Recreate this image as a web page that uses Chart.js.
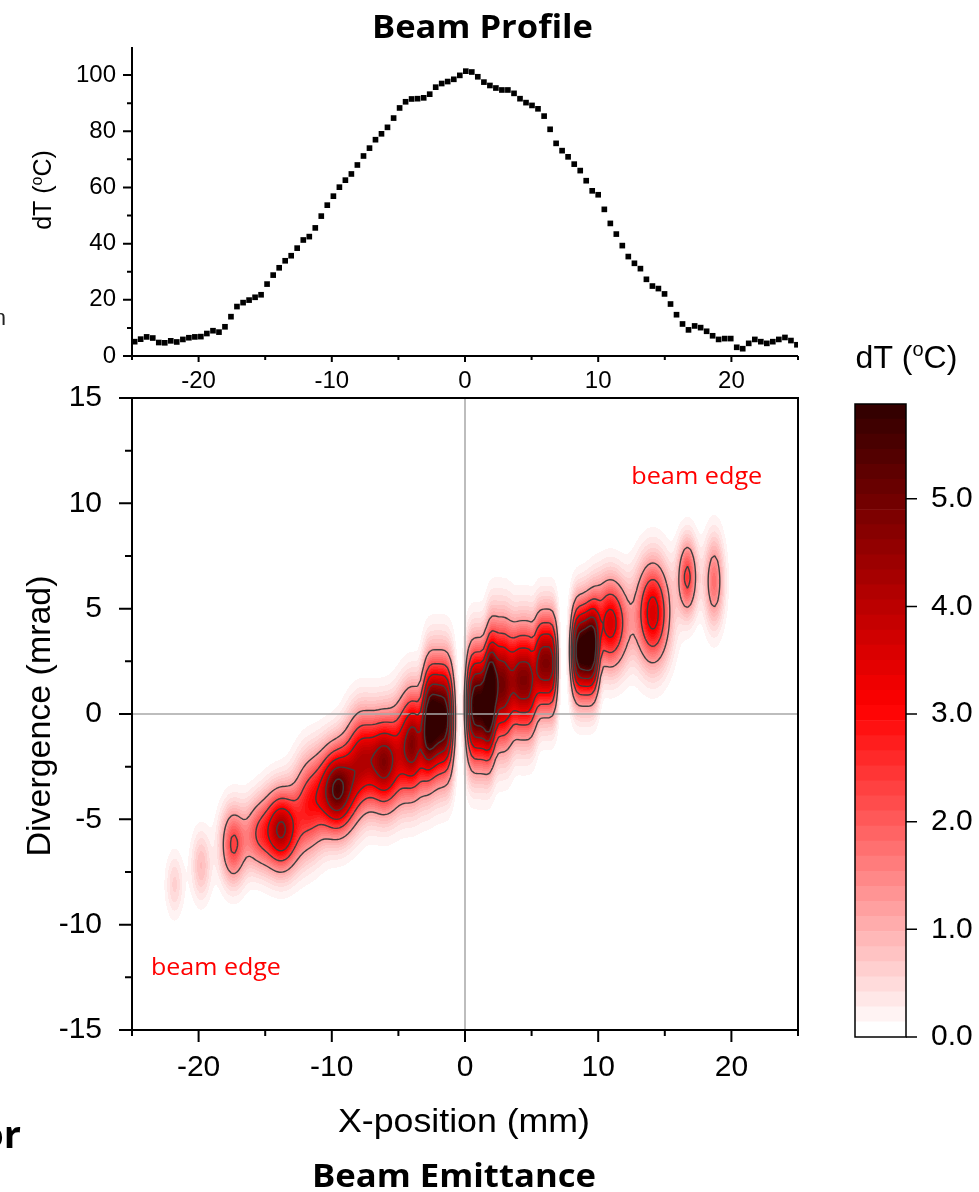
<!DOCTYPE html>
<html>
<head>
<meta charset="utf-8">
<title>Beam Profile / Beam Emittance</title>
<script src="https://cdn.jsdelivr.net/npm/chart.js@4.4.1/dist/chart.umd.min.js"></script>
<style>
  html, body { margin: 0; padding: 0; background: #fff; }
  #wrap { position: relative; width: 979px; height: 1192px; overflow: hidden; }
  #wrap canvas { position: absolute; left: 0; top: 0; }
</style>
</head>
<body>
<div id="wrap">
  <canvas id="profileChart" width="979" height="1192"></canvas>
  <canvas id="emitChart" width="979" height="1192"></canvas>
  <canvas id="scaleChart" width="979" height="1192"></canvas>
</div>
<script>
// beam profile (top panel), dT in degC against x in mm
const profileX = [
  -24.80, -24.35, -23.90, -23.44, -22.99, -22.54, -22.09, -21.64, -21.18, -20.73,
  -20.28, -19.83, -19.38, -18.92, -18.47, -18.02, -17.57, -17.12, -16.66, -16.21,
  -15.76, -15.31, -14.86, -14.40, -13.95, -13.50, -13.05, -12.60, -12.14, -11.69,
  -11.24, -10.79, -10.34, -9.88, -9.43, -8.98, -8.53, -8.08, -7.62, -7.17,
  -6.72, -6.27, -5.82, -5.36, -4.91, -4.46, -4.01, -3.56, -3.10, -2.65,
  -2.20, -1.75, -1.30, -0.84, -0.39, 0.06, 0.51, 0.96, 1.42, 1.87,
  2.32, 2.77, 3.22, 3.68, 4.13, 4.58, 5.03, 5.48, 5.94, 6.39,
  6.84, 7.29, 7.74, 8.20, 8.65, 9.10, 9.55, 10.00, 10.46, 10.91,
  11.36, 11.81, 12.26, 12.72, 13.17, 13.62, 14.07, 14.52, 14.98, 15.43,
  15.88, 16.33, 16.78, 17.24, 17.69, 18.14, 18.59, 19.04, 19.50, 19.95,
  20.40, 20.85, 21.30, 21.76, 22.21, 22.66, 23.11, 23.56, 24.02, 24.47, 24.92
];
const profileDT = [
  5.1, 6.0, 6.8, 6.4, 4.8, 4.7, 5.4, 5.0, 5.9, 6.5,
  6.8, 6.9, 8.0, 9.0, 8.5, 10.4, 14.0, 17.6, 19.0, 19.9,
  20.9, 21.8, 25.6, 28.8, 31.4, 33.9, 35.7, 38.4, 41.3, 42.5,
  45.6, 49.8, 53.7, 56.9, 60.1, 62.6, 64.8, 68.0, 71.2, 74.0,
  77.0, 79.1, 81.4, 84.7, 88.3, 90.5, 91.5, 91.6, 91.9, 93.2,
  95.7, 97.0, 97.7, 98.5, 99.9, 101.4, 101.1, 99.4, 97.5, 96.3,
  95.4, 94.7, 94.7, 93.5, 91.6, 90.2, 89.2, 88.0, 85.4, 80.7,
  75.7, 73.1, 70.9, 68.3, 66.0, 62.4, 58.8, 57.4, 52.2, 47.2,
  43.4, 39.3, 35.4, 33.0, 31.1, 27.3, 24.9, 24.0, 22.1, 18.5,
  14.7, 11.4, 9.3, 10.7, 10.1, 8.8, 7.2, 5.9, 6.2, 6.2,
  3.1, 2.6, 4.5, 5.9, 5.1, 4.5, 5.1, 5.9, 6.6, 5.5, 4.0
];
const profileXTicks = [-20, -10, 0, 10, 20];
const profileXMinor = [-25, -15, -5, 5, 15, 25];
const profileYTicks = [0, 20, 40, 60, 80, 100];
const profileYMinor = [10, 30, 50, 70, 90];

// emittance map (bottom panel): beamlet spots
// centre x (mm), centre divergence (mrad), peak dT (degC), spread x / y,
// and edge shape across x (2 = gaussian, 4 = flat slit-like top)
const spotX =     [-21.8, -19.8, -17.4, -15.6, -13.8, -11.7, -9.6, -7.8, -6.0, -3.9, -2.0, 1.1, 2.6, 4.4, 6.1, 9.0, 10.9, 14.1, 16.7, 18.7];
const spotY =     [-8.1, -7.2, -6.2, -5.7, -5.5, -4.3, -3.6, -2.1, -2.3, -1.4, -0.2, 0.4, 1.4, 1.6, 2.4, 3.0, 4.3, 4.8, 6.5, 6.3];
const spotPeak =  [0.6, 0.85, 2.3, 1.7, 4.3, 2.4, 5.3, 3.2, 4.4, 4.6, 6.1, 6.0, 5.0, 4.8, 4.8, 6.2, 3.6, 3.6, 2.4, 1.75];
const spotSizeX = [0.45, 0.5, 0.65, 0.7, 0.9, 0.8, 0.95, 0.8, 0.85, 0.8, 0.95, 0.85, 0.8, 0.8, 0.7, 0.85, 0.9, 0.85, 0.5, 0.5];
const spotSizeY = [1.0, 1.1, 1.2, 1.1, 1.25, 1.5, 1.35, 1.5, 1.5, 1.65, 1.8, 1.8, 1.9, 1.7, 1.55, 1.45, 1.4, 1.6, 1.2, 1.4];
const spotEdge =  [2, 2, 2, 2, 2, 2, 2, 2, 2, 2, 4, 4, 4, 4, 4, 4, 2, 2, 2, 2];

const emitXTicks = [-20, -10, 0, 10, 20];
const emitXMinor = [-25, -15, -5, 5, 15, 25];
const emitYTicks = [-15, -10, -5, 0, 5, 10, 15];
const emitYMinor = [-12.5, -7.5, -2.5, 2.5, 7.5, 12.5];
const contourLevels = [1.2, 2.2, 3.2, 4.2, 5.2];

// colour scale
const colorTicks = [0, 1, 2, 3, 4, 5];
const colorMax = 5.88;
const colorStep = 0.14;

const SANS = "'Liberation Sans', Arial, sans-serif";
const HEAD = "'Open Sans', 'Liberation Sans', sans-serif";

function heatColor(v) {
  if (v <= 3) {
    const g = Math.round(255 * (1 - v / 3));
    return [255, g, g];
  }
  const r = Math.round(255 - (v - 3) / (colorMax - 3) * (255 - 42));
  return [r, 0, 0];
}

function cssColor(rgb) {
  return `rgb(${rgb[0]},${rgb[1]},${rgb[2]})`;
}

function hiddenGrid(len) {
  return { display: true, drawOnChartArea: false, drawTicks: true, tickLength: len, color: "rgba(0,0,0,0)" };
}

function tickFont(size) {
  return { family: SANS, size };
}

function fixTicks(values) {
  return (scale) => {
    scale.ticks = values.map((v) => ({ value: v }));
  };
}

function strokeTicks(ctx, scale, side, values, len) {
  const a = scale.chart.chartArea;
  values.forEach((v) => {
    const p = scale.getPixelForValue(v);
    if (side === "bottom") { ctx.moveTo(p, a.bottom); ctx.lineTo(p, a.bottom + len); }
    if (side === "left") { ctx.moveTo(a.left, p); ctx.lineTo(a.left - len, p); }
    if (side === "right") { ctx.moveTo(a.right, p); ctx.lineTo(a.right + len, p); }
  });
}

// text squeezed/stretched to the measured width of the reference
function fitText(ctx, text, font, cx, baseY, width, color, rotate) {
  ctx.save();
  ctx.font = font;
  const w = ctx.measureText(text).width;
  ctx.translate(cx, baseY);
  if (rotate) ctx.rotate(-Math.PI / 2);
  ctx.scale(width / w, 1);
  ctx.textAlign = "center";
  ctx.textBaseline = "alphabetic";
  ctx.fillStyle = color;
  ctx.fillText(text, 0, 0);
  ctx.restore();
}

// "dT (oC)" with a raised small o
function degLabel(ctx, cx, baseY, size, rotate) {
  ctx.save();
  ctx.translate(cx, baseY);
  if (rotate) ctx.rotate(-Math.PI / 2);
  const big = `${size}px ${SANS}`;
  const small = `${Math.round(size * 0.62)}px ${SANS}`;
  ctx.font = big;
  const wa = ctx.measureText("dT (").width;
  const wb = ctx.measureText("C)").width;
  ctx.font = small;
  const wo = ctx.measureText("o").width;
  let x = -(wa + wo + wb) / 2;
  ctx.fillStyle = "#000";
  ctx.textAlign = "left";
  ctx.textBaseline = "alphabetic";
  ctx.font = big;
  ctx.fillText("dT (", x, 0);
  x += wa;
  ctx.font = small;
  ctx.fillText("o", x, -size * 0.36);
  x += wo;
  ctx.font = big;
  ctx.fillText("C)", x, 0);
  ctx.restore();
}

const profileFrame = {
  id: "profileFrame",
  afterDraw(chart) {
    const { ctx, chartArea: a, scales: { x, y } } = chart;
    ctx.save();
    ctx.strokeStyle = "#000";
    ctx.lineWidth = 2;
    ctx.beginPath();
    ctx.moveTo(a.left, a.top);
    ctx.lineTo(a.left, a.bottom);
    ctx.lineTo(a.right, a.bottom);
    strokeTicks(ctx, x, "bottom", profileXTicks, 6);
    strokeTicks(ctx, x, "bottom", profileXMinor, 4);
    strokeTicks(ctx, y, "left", profileYTicks, 9);
    strokeTicks(ctx, y, "left", profileYMinor, 5);
    ctx.stroke();
    ctx.restore();

    fitText(ctx, "Beam Profile", `bold 33px ${HEAD}`, 482.5, 38, 221, "#000");
    degLabel(ctx, 51, 190, 25, true);
    // cut-off text at the left border of the source figure
    ctx.save();
    ctx.font = `22px ${SANS}`;
    ctx.fillStyle = "#222";
    ctx.textAlign = "right";
    ctx.fillText("n", 6, 325);
    ctx.restore();
  }
};

const emitMap = {
  id: "emitMap",
  beforeDatasetsDraw(chart) {
    const { ctx, chartArea: a, scales: { x, y } } = chart;
    const left = Math.round(a.left), top = Math.round(a.top);
    const w = Math.round(a.right) - left, h = Math.round(a.bottom) - top;
    const n = spotX.length;

    const xs = new Float32Array(w), ys = new Float32Array(h);
    for (let i = 0; i < w; i++) xs[i] = x.getValueForPixel(left + i + 0.5);
    for (let j = 0; j < h; j++) ys[j] = y.getValueForPixel(top + j + 0.5);

    const ex = [], ey = [];
    for (let b = 0; b < n; b++) {
      const ax = new Float32Array(w), ay = new Float32Array(h);
      for (let i = 0; i < w; i++) {
        const d = Math.abs(xs[i] - spotX[b]) / spotSizeX[b];
        ax[i] = spotPeak[b] * Math.exp(-0.5 * Math.pow(d, spotEdge[b]));
      }
      for (let j = 0; j < h; j++) {
        const d = (ys[j] - spotY[b]) / spotSizeY[b];
        ay[j] = Math.exp(-0.5 * d * d);
      }
      ex.push(ax);
      ey.push(ay);
    }

    const field = new Float32Array(w * h);
    for (let j = 0; j < h; j++) {
      for (let b = 0; b < n; b++) {
        const fy = ey[b][j];
        if (fy < 1e-4) continue;
        const ax = ex[b];
        const row = j * w;
        for (let i = 0; i < w; i++) field[row + i] += ax[i] * fy;
      }
    }

    const bandCount = Math.round(colorMax / colorStep);
    const palette = [];
    for (let k = 0; k < bandCount; k++) palette.push(heatColor(k * colorStep));

    const off = document.createElement("canvas");
    off.width = w;
    off.height = h;
    const octx = off.getContext("2d");
    const img = octx.createImageData(w, h);
    for (let p = 0; p < w * h; p++) {
      const k = Math.min(bandCount - 1, Math.floor(field[p] / colorStep));
      const c = palette[Math.max(0, k)];
      img.data[p * 4] = c[0];
      img.data[p * 4 + 1] = c[1];
      img.data[p * 4 + 2] = c[2];
      img.data[p * 4 + 3] = 255;
    }
    octx.putImageData(img, 0, 0);
    ctx.drawImage(off, left, top);

    // zero lines
    ctx.save();
    ctx.strokeStyle = "#a8a8a8";
    ctx.lineWidth = 1.5;
    ctx.beginPath();
    const x0 = x.getPixelForValue(0), y0 = y.getPixelForValue(0);
    ctx.moveTo(x0, a.top);
    ctx.lineTo(x0, a.bottom);
    ctx.moveTo(a.left, y0);
    ctx.lineTo(a.right, y0);
    ctx.stroke();
    ctx.restore();

    // contour lines, marching squares on the same field
    const s = 3;
    ctx.save();
    ctx.strokeStyle = "#3e3e3e";
    ctx.lineWidth = 1.4;
    contourLevels.forEach((L) => {
      ctx.beginPath();
      for (let j = 0; j + s < h; j += s) {
        for (let i = 0; i + s < w; i += s) {
          const v0 = field[j * w + i], v1 = field[j * w + i + s];
          const v2 = field[(j + s) * w + i + s], v3 = field[(j + s) * w + i];
          const inside = (v0 >= L) + (v1 >= L) + (v2 >= L) + (v3 >= L);
          if (inside === 0 || inside === 4) continue;
          const pts = [];
          const cross = (va, vb, xa, ya, xb, yb) => {
            if ((va >= L) !== (vb >= L)) {
              const t = (L - va) / (vb - va);
              pts.push(left + 0.5 + xa + t * (xb - xa), top + 0.5 + ya + t * (yb - ya));
            }
          };
          cross(v0, v1, i, j, i + s, j);
          cross(v1, v2, i + s, j, i + s, j + s);
          cross(v3, v2, i, j + s, i + s, j + s);
          cross(v0, v3, i, j, i, j + s);
          for (let k = 0; k + 3 < pts.length; k += 4) {
            ctx.moveTo(pts[k], pts[k + 1]);
            ctx.lineTo(pts[k + 2], pts[k + 3]);
          }
        }
      }
      ctx.stroke();
    });
    ctx.restore();
  }
};

const emitFrame = {
  id: "emitFrame",
  afterDraw(chart) {
    const { ctx, chartArea: a, scales: { x, y } } = chart;
    ctx.save();
    ctx.strokeStyle = "#000";
    ctx.lineWidth = 2;
    ctx.strokeRect(a.left, a.top, a.right - a.left, a.bottom - a.top);
    ctx.beginPath();
    strokeTicks(ctx, x, "bottom", emitXTicks, 12);
    strokeTicks(ctx, x, "bottom", emitXMinor, 6);
    strokeTicks(ctx, y, "left", emitYTicks, 13);
    strokeTicks(ctx, y, "left", emitYMinor, 7);
    ctx.stroke();
    ctx.restore();

    fitText(ctx, "X-position (mm)", `34px ${SANS}`, 464, 1132, 252, "#000");
    fitText(ctx, "Divergence (mrad)", `34px ${SANS}`, 50, 716, 281, "#000", true);
    fitText(ctx, "Beam Emittance", `bold 32px ${HEAD}`, 454, 1187, 284, "#000");

    fitText(ctx, "beam edge", `24px ${HEAD}`, x.getPixelForValue(17.4), y.getPixelForValue(10.9), 131, "#ff0000");
    fitText(ctx, "beam edge", `24px ${HEAD}`, x.getPixelForValue(-18.7), y.getPixelForValue(-12.4), 130, "#ff0000");

    // cut-off text at the left border of the source figure
    ctx.save();
    ctx.font = `bold 38px ${HEAD}`;
    ctx.fillStyle = "#000";
    ctx.textAlign = "right";
    ctx.fillText("or", 21, 1148);
    ctx.restore();
  }
};

const scaleFrame = {
  id: "scaleFrame",
  afterDraw(chart) {
    const { ctx, chartArea: a, scales: { y } } = chart;
    ctx.save();
    ctx.strokeStyle = "#000";
    ctx.lineWidth = 1.5;
    ctx.strokeRect(a.left, a.top, a.right - a.left, a.bottom - a.top);
    ctx.beginPath();
    strokeTicks(ctx, y, "right", colorTicks, 11);
    ctx.stroke();
    ctx.restore();
    degLabel(ctx, 906.5, 368, 32, false);
  }
};

new Chart(document.getElementById("profileChart"), {
  type: "scatter",
  data: {
    datasets: [{
      data: profileX.map((v, i) => ({ x: v, y: profileDT[i] })),
      pointStyle: "rect",
      pointRadius: 4,
      pointHoverRadius: 4,
      backgroundColor: "#000",
      borderWidth: 0
    }]
  },
  options: {
    responsive: false,
    animation: false,
    events: [],
    layout: { padding: { left: 0, right: 181, top: 47, bottom: 792 } },
    plugins: { legend: { display: false }, tooltip: { enabled: false } },
    scales: {
      x: {
        type: "linear", min: -25, max: 25,
        afterBuildTicks: fixTicks(profileXTicks),
        afterFit: (s) => { s.height = 44; },
        grid: hiddenGrid(6),
        border: { display: false },
        ticks: { font: tickFont(24), color: "#000", padding: 5, autoSkip: false, maxRotation: 0 }
      },
      y: {
        min: 0, max: 110,
        afterBuildTicks: fixTicks(profileYTicks),
        afterFit: (s) => { s.width = 132; },
        grid: hiddenGrid(9),
        border: { display: false },
        ticks: { font: tickFont(24), color: "#000", padding: 7, autoSkip: false }
      }
    }
  },
  plugins: [profileFrame]
});

new Chart(document.getElementById("emitChart"), {
  type: "scatter",
  data: {
    datasets: [{
      label: "beamlets",
      data: spotX.map((v, i) => ({ x: v, y: spotY[i] })),
      pointRadius: 0,
      pointHoverRadius: 0
    }]
  },
  options: {
    responsive: false,
    animation: false,
    events: [],
    layout: { padding: { left: 0, right: 181, top: 398, bottom: 0 } },
    plugins: { legend: { display: false }, tooltip: { enabled: false } },
    scales: {
      x: {
        type: "linear", min: -25, max: 25,
        afterBuildTicks: fixTicks(emitXTicks),
        afterFit: (s) => { s.height = 162; },
        grid: hiddenGrid(12),
        border: { display: false },
        ticks: { font: tickFont(30), color: "#000", padding: 8, autoSkip: false, maxRotation: 0 }
      },
      y: {
        min: -15, max: 15,
        afterBuildTicks: fixTicks(emitYTicks),
        afterFit: (s) => { s.width = 132; },
        grid: hiddenGrid(13),
        border: { display: false },
        ticks: { font: tickFont(30), color: "#000", padding: 17, autoSkip: false }
      }
    }
  },
  plugins: [emitMap, emitFrame]
});

const bandLevels = [];
for (let k = 0; k < Math.round(colorMax / colorStep); k++) bandLevels.push(k * colorStep);

new Chart(document.getElementById("scaleChart"), {
  type: "bar",
  data: {
    labels: [""],
    datasets: bandLevels.map((lv) => ({
      data: [colorStep],
      backgroundColor: cssColor(heatColor(lv)),
      borderWidth: 0,
      barPercentage: 1,
      categoryPercentage: 1
    }))
  },
  options: {
    responsive: false,
    animation: false,
    events: [],
    layout: { padding: { left: 855, right: 0, top: 404, bottom: 155 } },
    plugins: { legend: { display: false }, tooltip: { enabled: false } },
    scales: {
      x: { display: false, stacked: true },
      y: {
        stacked: true,
        position: "right",
        min: 0, max: colorMax,
        afterBuildTicks: fixTicks(colorTicks),
        afterFit: (s) => { s.width = 73; },
        grid: hiddenGrid(11),
        border: { display: false },
        ticks: { font: tickFont(30), color: "#000", padding: 14, autoSkip: false, callback: (v) => Number(v).toFixed(1) }
      }
    }
  },
  plugins: [scaleFrame]
});
</script>
</body>
</html>
